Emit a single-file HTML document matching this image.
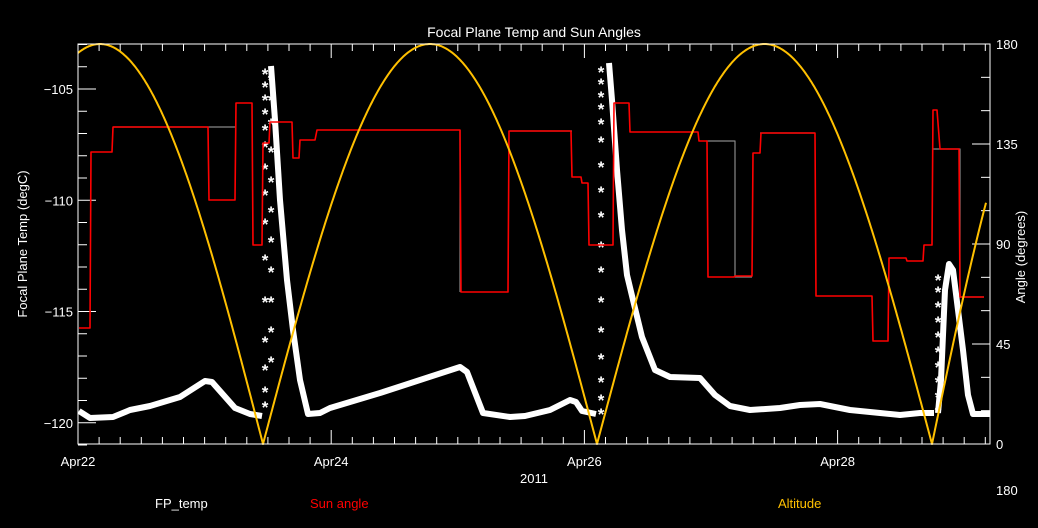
<!DOCTYPE html>
<html><head><meta charset="utf-8"><style>
html,body{margin:0;padding:0;background:#000;width:1038px;height:528px;overflow:hidden}
svg text{font-family:"Liberation Sans",sans-serif;fill:#fff}
</style></head><body>
<svg id="s" width="1038" height="528" xmlns="http://www.w3.org/2000/svg">
<rect width="1038" height="528" fill="#000"/>
<text x="534" y="37" font-size="14" text-anchor="middle">Focal Plane Temp and Sun Angles</text>
<text transform="translate(27,244) rotate(-90)" font-size="13" text-anchor="middle">Focal Plane Temp (degC)</text>
<text transform="translate(1025,257) rotate(-90)" font-size="13" text-anchor="middle">Angle (degrees)</text>
<text x="534" y="483" font-size="13" text-anchor="middle">2011</text>
<text x="155" y="508" font-size="13">FP_temp</text>
<text x="310" y="508" font-size="13" fill="#ff0000" style="fill:#ff0000">Sun angle</text>
<text x="778" y="508" font-size="13" style="fill:#ffc000">Altitude</text>
<text x="996" y="495" font-size="13">180</text>
<g id="g"></g>
</svg>
<script>
var g=document.getElementById('g'),ns='http://www.w3.org/2000/svg';
function el(t,a,txt){var e=document.createElementNS(ns,t);for(var k in a)e.setAttribute(k,a[k]);if(txt)e.textContent=txt;g.appendChild(e);return e;}
var L=78,R=990,T=44,B=444;
for(var v=-103;v>=-121;v--){var y=89+(-105-v)*22.25;var maj=(v%5==0);el('line',{x1:L,x2:L+(maj?18:9),y1:y,y2:y,stroke:'#fff','stroke-width':1});
if(maj)el('text',{x:73,y:y+5,'font-size':13,'text-anchor':'end'},'\u2212'+(-v));}
for(var d=0;d<=180;d+=15){var y=B-d*400/180;var maj=(d%45==0);el('line',{x1:R,x2:R-(maj?18:9),y1:y,y2:y,stroke:'#fff'});
if(maj)el('text',{x:996,y:y+5,'font-size':13},String(d));}
var day=126.6;
for(var i=0;;i++){var x=L+i*day/6;if(x>R)break;var maj=(i%12==0);
el('line',{x1:x,x2:x,y1:B,y2:B-(maj?14:7),stroke:'#fff'});el('line',{x1:x,x2:x,y1:T,y2:T+(maj?14:7),stroke:'#fff'});}
['Apr22','Apr24','Apr26','Apr28'].forEach(function(s,i){el('text',{x:L+i*2*day,y:466,'font-size':13,'text-anchor':'middle'},s);});
function pl(pts,c,sw){el('polyline',{points:pts.map(function(p){return p.join(',')}).join(' '),fill:'none',stroke:c,'stroke-width':sw,'stroke-linejoin':'round'});}
pl([[79,411],[90,418],[113,417],[130,410],[150,406],[180,397],[205,381],[212,382],[235,408],[250,414],[262,416]],'#fff',6);
pl([[271,66],[275,120],[280,200],[287,280],[293,330],[300,380],[308,414],[320,413],[330,408],[380,393],[420,380],[460,367],[467,372],[483,413],[510,417],[525,416],[550,410],[570,400],[576,402],[582,411],[596,414]],'#fff',6);
pl([[609,63],[612,100],[617,170],[622,230],[627,275],[633,300],[642,337],[655,370],[670,377],[700,378],[715,395],[730,406],[750,410],[780,408],[800,405],[820,404],[850,410],[880,413],[900,415],[920,413],[934,413]],'#fff',6);
pl([[938,413],[941,380],[945,290],[949,264],[953,270],[958,310],[963,350],[968,395],[973,414],[990,414]],'#fff',6);
function col(x,ys){ys.forEach(function(y){el('text',{x:x,y:y+8,'font-size':17,'text-anchor':'middle','font-weight':'bold'},'*');});}
col(265,[405,390,368,340,300,258,222,193,167,145,128,112,98,85,72]);
col(271,[360,330,300,270,240,210,180,150,122,98,78]);
col(601,[412,398,380,357,330,300,270,245,215,190,165,140,122,107,95,82,70]);
col(938,[410,395,380,365,350,335,320,305,290,278]);
pl([[113,127],[235,127]],'#888',1.2);
pl([[460,130],[460,292]],'#888',1.2);
pl([[510,131],[572,131]],'#888',1.2);
pl([[706,141],[735,141],[735,277],[752,277]],'#888',1.2);
pl([[760,133],[815,133]],'#888',1.2);
pl([[932,149],[960,149],[960,297],[984,297]],'#888',1.2);
var r=[[79,328],[90,328],[91,152],[112,152],[113,127],[208,127],[209,200],[235,200],[236,103],[252,103],[253,245],[262,245],[263,143],[269,143],[270,122],[292,122],[293,158],[299,158],[300,140],[315,140],[317,130],[460,130],[461,292],[508,292],[509,131],[571,131],[572,177],[581,177],[582,183],[588,183],[589,245],[613,245],[614,103],[629,103],[630,132],[698,132],[699,141],[707,141],[708,277],[734,277],[735,276],[752,276],[753,153],[760,153],[761,133],[815,133],[816,296],[872,296],[873,341],[888,341],[889,258],[906,258],[907,261],[923,261],[924,245],[932,245],[933,110],[937,110],[940,149],[959,149],[960,297],[984,297]];
pl(r,'#ff0000',1.6);
var a=[];
for(var x=78;x<=986;x+=1){var v;
if(x<263)v=Math.sin(Math.PI*(263-x)/326);
else if(x<597)v=Math.sin(Math.PI*(x-263)/334);
else if(x<932)v=Math.sin(Math.PI*(x-597)/335);
else v=Math.sin(Math.PI*(x-932)/262);
a.push([x,(B-Math.abs(v)*400).toFixed(1)]);}
pl(a,'#ffc000',2);
el('rect',{x:L,y:T,width:R-L,height:B-T,fill:'none',stroke:'#fff','stroke-width':1});
</script>
</body></html>
